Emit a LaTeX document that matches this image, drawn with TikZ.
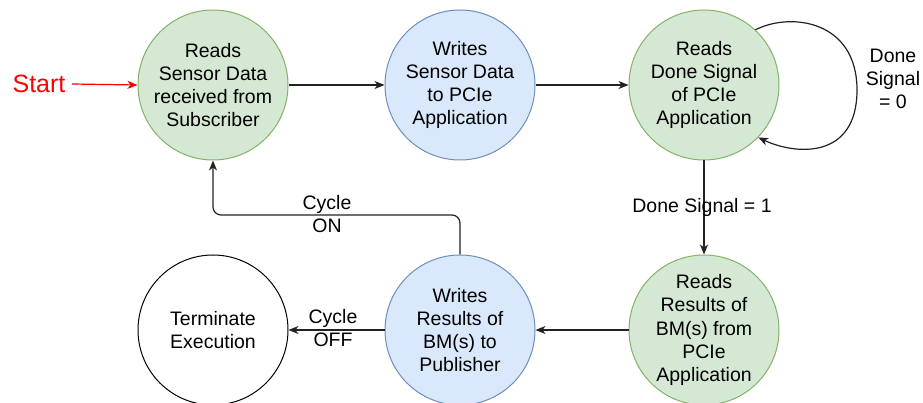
\documentclass[tikz,border=0pt]{standalone}
\usepackage{fontspec}
\setmainfont{Liberation Sans}
\usetikzlibrary{arrows.meta}

\definecolor{greenfill}{HTML}{D5E8D4}
\definecolor{greenline}{HTML}{82B366}
\definecolor{bluefill}{HTML}{DAE8FC}
\definecolor{blueline}{HTML}{6C8EBF}
\definecolor{edgecol}{HTML}{222222}

\tikzset{
  state/.style={circle, minimum size=150pt, inner sep=0pt, line width=1pt,
    align=center, font=\fontsize{19.5}{23.3}\selectfont},
  readstate/.style={state, draw=greenline, fill=greenfill},
  writestate/.style={state, draw=blueline, fill=bluefill},
  endstate/.style={state, draw=black, fill=white},
  flow/.style={draw=edgecol, line width=1.2pt,
    -{Stealth[length=10pt, width=8pt, inset=3pt]}},
  lbl/.style={align=center, font=\fontsize{19.5}{23.3}\selectfont, inner sep=0pt}
}

\begin{document}
\begin{tikzpicture}[x=1pt, y=-1pt]
  \useasboundingbox (0,0) rectangle (923,403);

  % states
  \node[readstate]  (c1) at (213,85)  {Reads\\Sensor Data\\received from\\Subscriber};
  \node[writestate] (c2) at (460,85)  {Writes\\Sensor Data\\to PCIe\\Application};
  \node[readstate]  (c3) at (704,85)  {Reads\\Done Signal\\of PCIe\\Application};
  \node[readstate]  (c4) at (704,330) {Reads\\Results of\\BM(s) from\\PCIe\\Application};
  \node[writestate] (c5) at (460,330) {Writes\\Results of\\BM(s) to\\Publisher};
  \node[endstate]   (c6) at (213,330) {Terminate\\Execution};

  % start marker
  \node[lbl, text=red, font=\fontsize{25}{30}\selectfont] (start) at (39,84) {Start};
  \coordinate (s0) at (72,84);
  \draw[flow, draw=red] (s0) -- (c1.west);

  % transitions
  \draw[flow] (c1) -- (c2);
  \draw[flow] (c2) -- (c3);
  \draw[flow] (c3) -- (c4);
  \draw[flow] (c4) -- (c5);
  \draw[flow] (c5) -- (c6);

  % polling loop on the done signal
  \coordinate (loopfar) at (857,90);
  \draw[flow] (c3.47) .. controls (790,12) and (857,20) .. (loopfar)
                      .. controls (857,160) and (795,155) .. (c3.-44);

  % cycle back to the start state
  \coordinate (onbend) at (213,215);
  \draw[flow, rounded corners=8pt] (c5.north) |- (onbend) -- (c1.south);

  % transition labels
  \node[lbl] (lon)  at (327,214) {Cycle\\ON};
  \node[lbl] (loff) at (333,328) {Cycle\\OFF};
  \node[lbl] (l1)   at (702,207) {Done Signal = 1};
  \node[lbl] (l0)   at (893,79)  {Done\\Signal\\= 0};
\end{tikzpicture}
\end{document}
